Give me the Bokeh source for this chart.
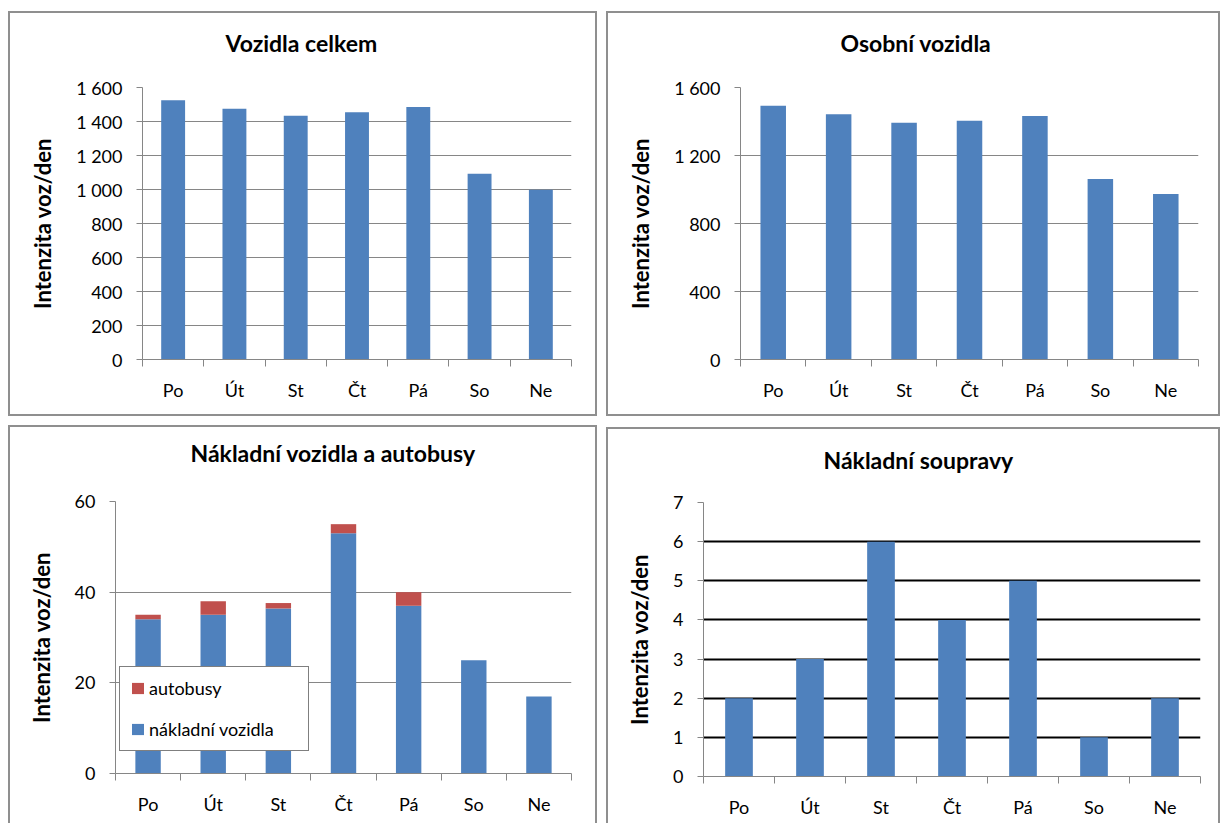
from bokeh.plotting import figure
from bokeh.models import (Range1d, FixedTicker, Legend, LegendItem, LinearAxis,
                          ColumnDataSource, Spacer)
from bokeh.layouts import row, column
from bokeh.embed import file_html
from bokeh.resources import INLINE

# ---------------- data ----------------
days = ["Po", "Út", "St", "Čt", "Pá", "So", "Ne"]
total_vehicles = [1525, 1475, 1434, 1455, 1485, 1093, 998]
passenger_cars = [1492, 1443, 1393, 1404, 1432, 1062, 974]
trucks = [34, 35, 36.4, 53, 37, 25, 17]
buses = [1, 3, 1.2, 2, 3, 0, 0]
truck_sets = [2, 3, 6, 4, 5, 1, 2]

titles = ["Vozidla celkem", "Osobní vozidla",
          "Nákladní vozidla a autobusy", "Nákladní soupravy"]
y_title = "Intenzita voz/den"
legend_labels = ["autobusy", "nákladní vozidla"]

y1_ticks = [0, 200, 400, 600, 800, 1000, 1200, 1400, 1600]
y1_labels = ["0", "200", "400", "600", "800", "1 000", "1 200", "1 400", "1 600"]
y2_ticks = [0, 400, 800, 1200, 1600]
y2_labels = ["0", "400", "800", "1 200", "1 600"]
y3_ticks = [0, 20, 40, 60]
y3_labels = ["0", "20", "40", "60"]
y4_ticks = [0, 1, 2, 3, 4, 5, 6, 7]
y4_labels = ["0", "1", "2", "3", "4", "5", "6", "7"]

# ---------------- style ----------------
FONT = "Lato"
BLUE = "#4F81BD"
RED = "#C0504D"
AXIS = "#868686"
BORDER = "#8f8f8f"
BAR_W = 0.39
x_idx = list(range(len(days)))


def make_panel(title, w, h, ml, mr, mt, fh, ymax, yticks, ylabels,
               t_offset, t_gap, grid_color, grid_width, full_border=True):
    p = figure(width=w, height=h, x_range=Range1d(-0.5, len(days) - 0.5),
               y_range=Range1d(0, ymax), output_backend="svg",
               toolbar_location=None, title=title,
               min_border_left=ml, min_border_right=mr, min_border_top=mt,
               min_border_bottom=h - mt - fh)
    p.outline_line_color = None
    p.border_fill_color = None
    p.background_fill_color = "white"
    if full_border:
        p.styles = {"box-shadow": f"inset 0 0 0 2px {BORDER}"}
    else:
        p.styles = {"box-shadow": f"inset 2px 0 0 0 {BORDER}, inset -2px 0 0 0 {BORDER}, inset 0 2px 0 0 {BORDER}"}

    # invisible spacer axis between frame and title (one hidden tick, no label)
    gap_axis = LinearAxis(ticker=FixedTicker(ticks=[0]), axis_line_color=None,
                          major_tick_line_color=None, minor_tick_line_color=None,
                          major_tick_out=t_gap, major_tick_in=0,
                          minor_tick_out=0, minor_tick_in=0,
                          major_label_standoff=0,
                          major_label_overrides={0: ""},
                          major_label_text_font_size="1px")
    p.add_layout(gap_axis, "above")

    p.title.align = "left"
    p.title.vertical_align = "bottom"
    p.title.offset = t_offset
    p.title.standoff = 10
    p.title.text_font = FONT
    p.title.text_font_style = "bold"
    p.title.text_font_size = "23px"
    p.title.text_color = "black"

    # x axis: labels at category centers, ticks at boundaries
    xaxis = p.below[0]
    xaxis.ticker = FixedTicker(ticks=x_idx,
                               minor_ticks=[i - 0.5 for i in range(len(days) + 1)])
    xaxis.major_label_overrides = {i: d for i, d in enumerate(days)}
    xaxis.major_tick_out = 0
    xaxis.major_tick_in = 0
    xaxis.minor_tick_out = 7
    xaxis.minor_tick_in = 0
    xaxis.minor_tick_line_color = AXIS
    xaxis.axis_line_color = AXIS
    xaxis.major_label_standoff = 12
    xaxis.major_label_text_font = FONT
    xaxis.major_label_text_font_size = "18px"
    xaxis.major_label_text_color = "black"

    # y axis
    p.yaxis.ticker = FixedTicker(ticks=yticks)
    p.yaxis.major_label_overrides = dict(zip(yticks, ylabels))
    p.yaxis.major_tick_out = 6
    p.yaxis.major_tick_in = 0
    p.yaxis.minor_tick_line_color = None
    p.yaxis.major_tick_line_color = AXIS
    p.yaxis.axis_line_color = AXIS
    p.yaxis.major_label_standoff = 14
    p.yaxis.major_label_text_font = FONT
    p.yaxis.major_label_text_font_size = "18px"
    p.yaxis.major_label_text_color = "black"
    p.yaxis.axis_label = y_title
    p.yaxis.axis_label_text_font = FONT
    p.yaxis.axis_label_text_font_style = "bold"
    p.yaxis.axis_label_text_font_size = "22px"
    p.yaxis.axis_label_text_color = "black"
    p.yaxis.axis_label_standoff = 17

    p.xgrid.visible = False
    p.ygrid.ticker = FixedTicker(ticks=[t for t in yticks if t > 0])
    p.ygrid.grid_line_color = grid_color
    p.ygrid.grid_line_width = grid_width
    return p


# Panel 1
p1 = make_panel(titles[0], 589, 405, 134, 26, 76, 272, 1600, y1_ticks, y1_labels,
                83, 26, AXIS, 1.2)
p1.vbar(x="x", top="v", width=BAR_W, fill_color=BLUE, line_color=None,
        source=ColumnDataSource(dict(x=x_idx, v=total_vehicles)))

# Panel 2
p2 = make_panel(titles[1], 614, 405, 134, 22, 76, 272, 1600, y2_ticks, y2_labels,
                100, 26, AXIS, 1.2)
p2.vbar(x="x", top="v", width=BAR_W, fill_color=BLUE, line_color=None,
        source=ColumnDataSource(dict(x=x_idx, v=passenger_cars)))

# Panel 3 (stacked)
p3 = make_panel(titles[2], 589, 398, 107, 26, 76, 272, 60, y3_ticks, y3_labels,
                75, 30, AXIS, 1.2, full_border=False)
src3 = ColumnDataSource(dict(x=x_idx, trucks=trucks, buses=buses))
r_truck, r_bus = p3.vbar_stack(["trucks", "buses"], x="x", width=BAR_W,
                               fill_color=[BLUE, RED], line_color=None, source=src3)
legend = Legend(items=[LegendItem(label=legend_labels[0], renderers=[r_bus]),
                       LegendItem(label=legend_labels[1], renderers=[r_truck])],
                location=(4, 22))
legend.border_line_color = "black"
legend.border_line_width = 1.5
legend.background_fill_color = "white"
legend.background_fill_alpha = 1.0
legend.label_text_font = FONT
legend.label_text_font_size = "18px"
legend.label_text_color = "black"
legend.glyph_width = 15
legend.glyph_height = 14
legend.label_standoff = 4
legend.label_width = 149
legend.spacing = 19
legend.padding = 10
legend.margin = 0
p3.add_layout(legend)

# Panel 4
p4 = make_panel(titles[3], 614, 396, 97, 20, 75, 274, 7, y4_ticks, y4_labels,
                120, 24, "black", 2, full_border=False)
p4.vbar(x="x", top="v", width=BAR_W, fill_color=BLUE, line_color=None,
        source=ColumnDataSource(dict(x=x_idx, v=truck_sets)))

top = row(Spacer(width=8), p1, Spacer(width=9), p2)
bottom = row(Spacer(width=8), p3, Spacer(width=9), column(Spacer(height=2), p4))
layout = column(Spacer(height=11), top, Spacer(height=9), bottom)

open("out.html", "w").write(file_html(layout, INLINE))
